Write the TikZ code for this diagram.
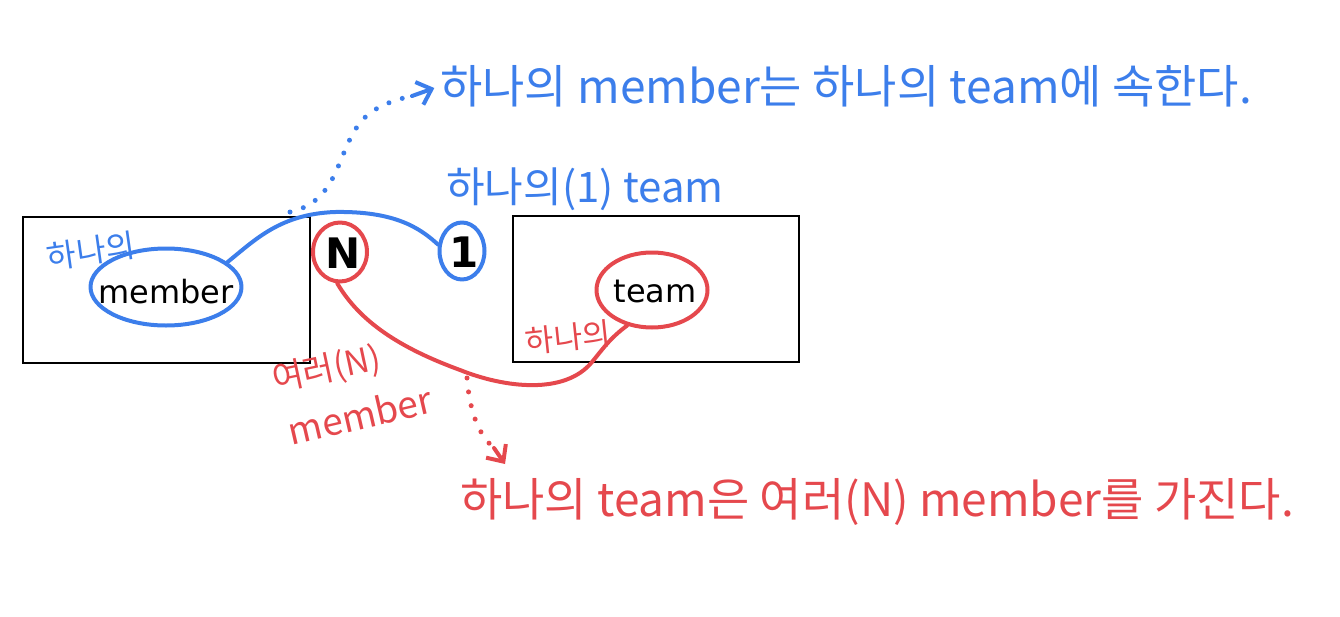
\documentclass[tikz,border=0pt]{standalone}
\usepackage{fontspec}
\setmainfont{DejaVu Sans}
\newfontfamily\kr{Noto Sans CJK KR}
\usetikzlibrary{shapes.geometric,arrows.meta}
\definecolor{penblue}{RGB}{60,126,235}
\definecolor{penred}{RGB}{229,72,77}
\begin{document}
\begin{tikzpicture}[x=1pt,y=-1pt,
  box/.style={draw=black, line width=2pt, inner sep=0pt, anchor=north west},
  bluepen/.style={draw=penblue, line width=4pt, line cap=round, line join=round},
  redpen/.style={draw=penred, line width=4pt, line cap=round, line join=round},
  ring/.style={ellipse, inner sep=0pt},
  dots/.style={line width=5pt, line cap=round, dash pattern=on 0pt off 14pt},
  plain/.style={font=\fontsize{32}{36}\selectfont, anchor=base, inner sep=0pt},
  cardmark/.style={font=\bfseries\fontsize{42}{46}\selectfont, anchor=base, inner sep=0pt},
  hand/.style={font=\kr\fontsize{#1}{#1}\selectfont, inner sep=0pt},
  barb/.style={-{Straight Barb[length=13pt, width=24pt, line width=4pt]}},
]
\useasboundingbox (0,0) rectangle (1340,616);

% boxes
\node[box, minimum width=287pt, minimum height=146pt] (mbox) at (22,216) {};
\node[box, minimum width=286pt, minimum height=146pt] (tbox) at (512,215) {};

% rings and words
\node[ring, bluepen, minimum width=151pt, minimum height=77pt] (memring) at (166,287) {};
\node[plain] (memtxt) at (166,303) {member};
\node[ring, redpen, minimum width=111pt, minimum height=75pt] (teamring) at (652,290) {};
\node[plain] (teamtxt) at (655,302) {team};
\node[ring, redpen, minimum width=54pt, minimum height=59pt] (nring) at (340,252) {};
\node[cardmark] (ntxt) at (343,268) {N};
\node[ring, bluepen, minimum width=45pt, minimum height=57pt] (onering) at (462,251) {};
\node[cardmark] (onetxt) at (464,267) {1};

% connectors
\draw[bluepen] (memring.22) .. controls (255,240) and (280,214) .. (335,212)
  .. controls (395,211) and (420,228) .. (onering.165);
\draw[redpen] (nring.-95) .. controls (360,322) and (400,348) .. (460,370)
  .. controls (505,388) and (565,395) .. (592,362)
  .. controls (602,350) and (610,338) .. (teamring.235);

% labels
\node[hand=32, text=penblue, rotate=8] (lbl1) at (91,251) {하나의};
\node[hand=42, text=penblue] (lbl2) at (585,189) {하나의(1) team};
\node[hand=31, text=penred, rotate=6] (lbl3) at (568,337) {하나의};
\node[hand=34, text=penred, rotate=12] (lbl4) at (327,370) {여러(N)};
\node[hand=37, text=penred, rotate=13] (lbl5) at (360,415) {member};

\node[hand=46, text=penblue, anchor=west] (toptxt) at (440,86) {하나의 member는 하나의 team에 속한다.};
\node[hand=46, text=penred, anchor=west] (bottxt) at (460,502) {하나의 team은 여러(N) member를 가진다.};

% dotted pointers
\coordinate (bstart) at (290,212);
\coordinate (bmid) at (412,96);
\draw[bluepen, dots] (bstart)
  .. controls (345,200) and (335,140) .. (370,113)
  .. controls (382,104) and (398,99) .. (bmid);
\draw[bluepen, barb, shorten >=6pt] (bmid) -- (toptxt.west);
\coordinate (rstart) at (467,378);
\coordinate (rmid) at (494,448);
\coordinate (rend) at (505,464);
\draw[redpen, dots] (rstart)
  .. controls (470,415) and (480,436) .. (rmid);
\draw[redpen, barb] (rmid) -- (rend);
\end{tikzpicture}
\end{document}
